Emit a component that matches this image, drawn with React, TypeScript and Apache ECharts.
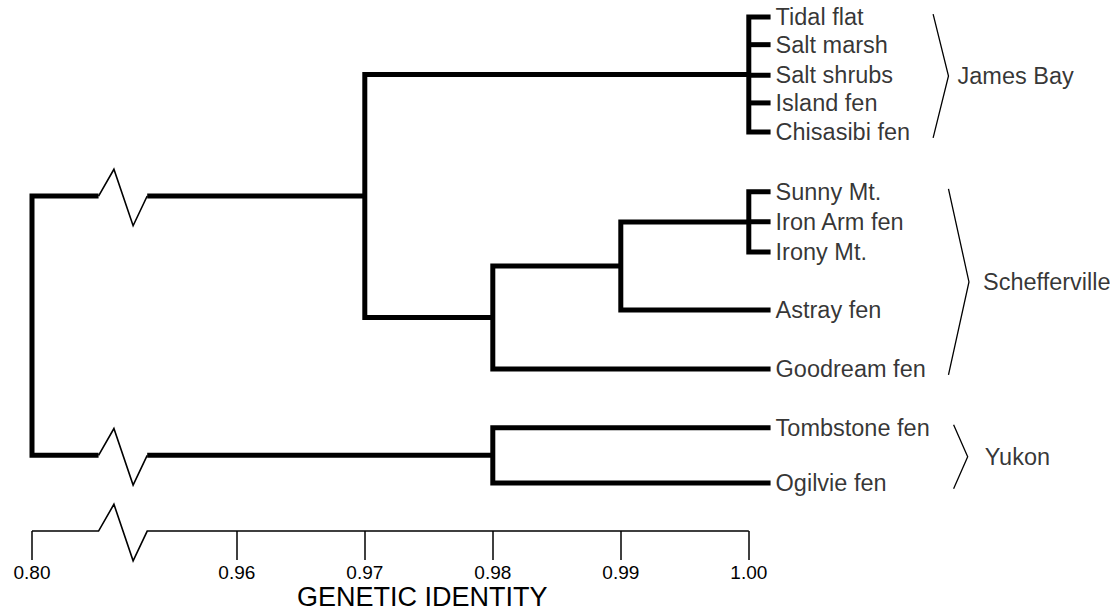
import React, { useEffect, useRef } from "react";
import * as echarts from "echarts";

// ---- data ----
const leafNames = [
  "Tidal flat", "Salt marsh", "Salt shrubs", "Island fen", "Chisasibi fen",
  "Sunny Mt.", "Iron Arm fen", "Irony Mt.", "Astray fen", "Goodream fen",
  "Tombstone fen", "Ogilvie fen",
];
// vertical order of the leaves (row index, top = 0)
const leafRows = [0, 0.95, 2, 2.95, 3.95, 6, 7.03, 8.07, 10.06, 12.09, 14.1, 16];

// internal clusters: genetic identity at which they join
const nodeNames = ["jamesBay", "sunny", "astray", "goodream", "east", "yukon", "root"];
const nodeIdentity = [1.0, 1.0, 0.99, 0.98, 0.97, 0.98, 0.8];
const nodeChildren = [
  ["Tidal flat", "Salt marsh", "Salt shrubs", "Island fen", "Chisasibi fen"],
  ["Sunny Mt.", "Iron Arm fen", "Irony Mt."],
  ["sunny", "Astray fen"],
  ["astray", "Goodream fen"],
  ["jamesBay", "goodream"],
  ["Tombstone fen", "Ogilvie fen"],
  ["east", "yukon"],
];

const groupNames = ["James Bay", "Schefferville", "Yukon"];
const groupFirstLeaf = ["Tidal flat", "Sunny Mt.", "Tombstone fen"];
const groupLastLeaf = ["Chisasibi fen", "Goodream fen", "Ogilvie fen"];

const tickValues = [0.8, 0.96, 0.97, 0.98, 0.99, 1.0];
const axisTitle = "GENETIC IDENTITY";

// ---- layout (axis break) ----
const BREAK_TO = 0.96; // values below this are drawn at BREAK_POS
const BREAK_POS = 0.944; // axis position standing for 0.80
const ZIG_X = [0.9492, 0.9504, 0.9519, 0.953];
const ZIG_DY = [0, -0.92, 1.02, 0];
const LEAF_END = 1.0017;
const AXIS_ROW = 17.65;
const groupBracketX = [1.0144, 1.0156, 1.016];
const groupBracketDepth = [0.0012, 0.0016, 0.0011];
const groupLabelGap = [9, 14, 17];

const FONT = "'Liberation Sans', Arial, Helvetica, sans-serif";

function axisX(v: number) {
  return v < BREAK_TO - 0.001 ? BREAK_POS : v;
}

function buildOption() {
  const pos: Record<string, { x: number; row: number }> = {};
  leafNames.forEach((n, i) => (pos[n] = { x: LEAF_END, row: leafRows[i] }));
  const thick: number[][][] = [];
  const thin: number[][][] = [];

  const zig = (row: number) => ZIG_X.map((x, i) => [x, row + ZIG_DY[i]]);

  nodeNames.forEach((name, i) => {
    const nx = axisX(nodeIdentity[i]);
    const kids = nodeChildren[i].map((c) => pos[c]);
    const rows = kids.map((k) => k.row);
    const r0 = Math.min(...rows);
    const r1 = Math.max(...rows);
    const needsBreak = nx < ZIG_X[0];
    const nearEnd = (k: { x: number }) => (needsBreak ? ZIG_X[0] : k.x);
    const first = kids[0];
    const last = kids[kids.length - 1];
    thick.push([
      [nearEnd(first), first.row],
      [nx, first.row],
      [nx, last.row],
      [nearEnd(last), last.row],
    ]);
    kids.forEach((k, j) => {
      if (j > 0 && j < kids.length - 1) thick.push([[nx, k.row], [nearEnd(k), k.row]]);
      if (needsBreak) {
        thin.push(zig(k.row));
        thick.push([[ZIG_X[3], k.row], [k.x, k.row]]);
      }
    });
    pos[name] = { x: nx, row: (r0 + r1) / 2 };
  });

  // axis line with break symbol
  thin.push([
    [axisX(tickValues[0]), AXIS_ROW],
    ...zig(AXIS_ROW),
    [tickValues[tickValues.length - 1], AXIS_ROW],
  ]);

  // group brackets
  const brackets: number[][][] = [];
  const groupLabels: any[] = [];
  groupNames.forEach((g, i) => {
    const top = pos[groupFirstLeaf[i]].row - 0.1;
    const bot = pos[groupLastLeaf[i]].row + 0.2;
    const tip = (top + bot) / 2;
    const bx = groupBracketX[i];
    const tx = bx + groupBracketDepth[i];
    brackets.push([[bx, top], [tx, tip], [bx, bot]]);
    groupLabels.push({
      value: [tx, tip],
      label: { show: true, position: "right", distance: groupLabelGap[i], formatter: g },
    });
  });

  const leafLabels = leafNames.map((n, i) => ({
    value: [LEAF_END, leafRows[i]],
    label: { show: true, position: "right", distance: 5, formatter: n },
  }));

  const tickPos = tickValues.map(axisX);

  return {
    animation: false,
    backgroundColor: "#fff",
    title: {
      text: axisTitle,
      left: 297,
      top: 587,
      padding: 0,
      textStyle: {
        fontFamily: FONT,
        fontSize: 27,
        lineHeight: 20,
        fontWeight: "normal",
        color: "#000",
      },
    },
    grid: { left: 32, top: 17, width: 0.084 * 12800, height: AXIS_ROW * 29.125 },
    xAxis: {
      type: "value",
      position: "bottom",
      min: BREAK_POS,
      max: 1.028,
      splitLine: { show: false },
      axisLine: { show: false, onZero: false },
      axisTick: {
        show: true,
        customValues: tickPos,
        length: 29,
        inside: false,
        lineStyle: { color: "#000", width: 1.5 },
      },
      axisLabel: {
        show: true,
        customValues: tickPos,
        margin: 34,
        fontFamily: FONT,
        fontSize: 19,
        lineHeight: 15,
        color: "#000",
        formatter: (v: number) => {
          const idx = tickPos.findIndex((t) => Math.abs(t - v) < 1e-6);
          return idx >= 0 ? tickValues[idx].toFixed(2) : "";
        },
      },
    },
    yAxis: { type: "value", inverse: true, min: 0, max: AXIS_ROW, show: false },
    series: [
      {
        type: "lines",
        coordinateSystem: "cartesian2d",
        polyline: true,
        clip: false,
        silent: true,
        lineStyle: { color: "#000", width: 5, cap: "butt", join: "miter", opacity: 1 },
        data: thick.map((c) => ({ coords: c })),
      },
      {
        type: "lines",
        coordinateSystem: "cartesian2d",
        polyline: true,
        clip: false,
        silent: true,
        lineStyle: { color: "#000", width: 1.6, join: "miter", opacity: 1 },
        data: thin.map((c) => ({ coords: c })),
      },
      {
        type: "lines",
        coordinateSystem: "cartesian2d",
        polyline: true,
        clip: false,
        silent: true,
        lineStyle: { color: "#000", width: 1.3, opacity: 1 },
        data: brackets.map((c) => ({ coords: c })),
      },
      {
        type: "scatter",
        symbolSize: 0,
        clip: false,
        silent: true,
        label: { fontFamily: FONT, fontSize: 23.5, color: "#000" },
        data: leafLabels,
      },
      {
        type: "scatter",
        symbolSize: 0,
        clip: false,
        silent: true,
        label: { fontFamily: FONT, fontSize: 23.5, color: "#000" },
        data: groupLabels,
      },
    ],
  };
}

export default function App() {
  const ref = useRef<HTMLDivElement>(null);
  useEffect(() => {
    if (!ref.current) return;
    const chart = echarts.init(ref.current, null, { renderer: "svg" });
    chart.setOption(buildOption() as any);
    return () => chart.dispose();
  }, []);
  return (
    <div
      ref={ref}
      style={{ position: "fixed", left: 0, top: 0, width: 1117, height: 612, background: "#fff" }}
    />
  );
}
